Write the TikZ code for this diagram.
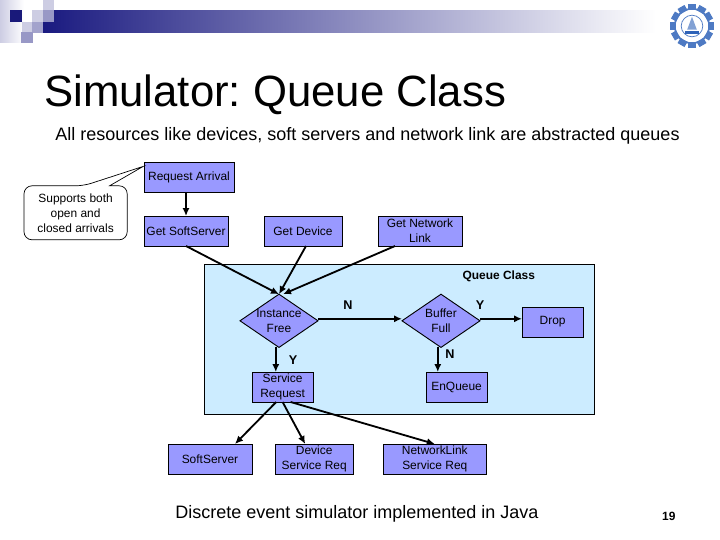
\documentclass[tikz,border=0pt]{standalone}
\usepackage{fontspec}
\setmainfont{Liberation Sans}
\usepackage{xcolor}
\usetikzlibrary{arrows.meta,positioning,shapes.geometric}
\definecolor{boxblue}{HTML}{9999FF}
\definecolor{panelblue}{HTML}{CCECFF}
\definecolor{slidenavy}{HTML}{1A1A80}
\definecolor{logoblue}{HTML}{2F63B8}
\frenchspacing

\begin{document}
\begin{tikzpicture}[
    node distance=0.6cm and 0.9cm,
    proc/.style={
        draw,
        line width=0.65pt,
        fill=boxblue,
        align=center,
        inner sep=0pt,
        outer sep=0pt,
        minimum width=2.1cm,
        minimum height=0.75cm,
        font=\fontsize{8.5}{10.7}\selectfont
    },
    decision/.style={proc, shape=diamond, inner sep=-6pt, minimum width=1.95cm, minimum height=1.33cm},
    panel/.style={draw, line width=0.65pt, fill=panelblue, minimum width=9.75cm, minimum height=3.75cm, inner sep=0pt, outer sep=0pt},
    note/.style={align=center, inner sep=0pt, outer sep=0pt, minimum width=2.58cm, minimum height=1.35cm, font=\fontsize{8.5}{10.7}\selectfont},
    flag/.style={font=\fontsize{9}{11}\selectfont\bfseries, inner sep=0pt},
    heading/.style={font=\fontsize{12.8}{15}\selectfont, inner sep=0pt},
    arrow/.style={-{Latex[length=2mm,width=1.8mm]}, line width=1.3pt}
]
\useasboundingbox (0,0) rectangle (18,-13.5);

% slide banner
\shade[left color=slidenavy, right color=white] (1.08,-0.25) rectangle (16.4,-0.82);
\shade[left color=slidenavy!22, right color=white] (0,0) rectangle (0.6,-1.05);
\fill[slidenavy!95!black] (0.25,-0.25) rectangle (0.55,-0.55);
\fill[slidenavy!22] (0.8,-0.25) rectangle (1.08,-0.55);
\fill[slidenavy!22] (1.08,0) rectangle (1.35,-0.25);
\fill[slidenavy!45] (1.08,-0.25) rectangle (1.35,-0.55);
\fill[slidenavy!22] (0.55,-0.55) rectangle (0.8,-0.8);
\fill[slidenavy!40] (0.8,-0.55) rectangle (1.08,-0.82);
\fill[slidenavy!45] (0.53,-0.8) rectangle (0.82,-1.07);

% logo
\foreach \ang in {0,30,...,330}
    \fill[logoblue!85, rotate around={\ang:(17.3,-0.65)}] (17.2,-0.1) rectangle (17.4,-0.25);
\draw[logoblue!85, line width=1.2pt] (17.3,-0.65) circle (0.43);
\draw[logoblue!85, line width=0.5pt] (17.3,-0.65) circle (0.27);
\fill[logoblue] (17.12,-0.78) rectangle (17.48,-0.86);
\fill[logoblue!60] (17.3,-0.42) -- (17.42,-0.74) -- (17.18,-0.74) -- cycle;

% heading and captions
\node[inner sep=0pt, anchor=base west, font=\fontsize{31.1}{36}\selectfont] (title) at (1.1,-2.67) {Simulator: Queue Class};
\node[heading, anchor=base west] (subtitle) at (1.38,-3.5) {All resources like devices, soft servers and network link are abstracted queues};
\node[heading, anchor=base west] (footer) at (4.38,-12.97) {Discrete event simulator implemented in Java};
\node[inner sep=0pt, font=\fontsize{8.5}{10}\selectfont\bfseries] (pagenum) at (16.72,-12.9) {19};

\node[panel] (queuepanel) at (9.975,-8.475) {};

% top row
\node[proc, minimum width=2.25cm, anchor=north west] (reqarrival) at (3.6,-4.05) {Request Arrival};
\node[proc, below right=0.6cm and 0cm of reqarrival.south west] (getsoft) {Get SoftServer};
\node[proc, minimum width=1.95cm, right=0.9cm of getsoft] (getdevice) {Get Device};
\node[proc, right=0.9cm of getdevice] (getnetwork) {Get Network\\Link};

% callout
\node[note] (supports) at (1.89,-5.32) {Supports both\\open and\\closed arrivals};
\coordinate (notetip) at (3.58,-4.16);
\draw[line width=0.5pt, rounded corners=0.2cm] (supports.west) |- ([xshift=0.2cm]supports.north) [sharp corners] -- (notetip) -- ([xshift=0.85cm]supports.north) [rounded corners=0.2cm] -| (supports.east) |- (supports.south) -| (supports.west);

% inside the queue class
\node[font=\fontsize{8.5}{10}\selectfont\bfseries, inner sep=0pt] (queuelabel) at (12.47,-6.9) {Queue Class};
\node[decision] (instfree) at (6.975,-8.02) {Instance\\Free};
\node[decision] (bufffull) at (11.025,-8.02) {Buffer\\Full};
\node[proc, minimum width=1.53cm, right=1.05cm of bufffull.east, yshift=-0.03cm] (dropbox) {Drop};
\node[proc, minimum width=1.53cm, anchor=north west] (enqueue) at (10.65,-9.3) {EnQueue};
\node[proc, minimum width=1.53cm, anchor=north west] (servreq) at (6.3,-9.3) {Service\\Request};

% bottom row
\node[proc, anchor=north west] (softserver) at (4.2,-11.1) {SoftServer};
\node[proc, minimum width=1.95cm, right=0.58cm of softserver] (deviceserv) {Device\\Service Req};
\node[proc, minimum width=2.58cm, right=0.75cm of deviceserv] (netserv) {NetworkLink\\Service Req};

\node[flag] (instno) at (8.7,-7.63) {N};
\node[flag] (buffyes) at (12,-7.63) {Y};
\node[flag] (instyes) at (7.33,-9) {Y};
\node[flag] (buffno) at (11.25,-8.85) {N};

\draw[arrow] (getsoft.north |- reqarrival.south) -- (getsoft.north);
\draw[arrow] (getsoft.south) -- (instfree.north);
\draw[arrow] ([xshift=0.075cm]getdevice.south) -- (instfree.north);
\draw[arrow] ([xshift=-0.625cm]getnetwork.south) -- ([xshift=0.1cm]instfree.north);
\draw[arrow] ([yshift=0.05cm]instfree.east) -- ([yshift=0.05cm]bufffull.west);
\draw[arrow] ([yshift=0.05cm]bufffull.east) -- ([yshift=0.05cm]bufffull.east -| dropbox.west);
\draw[arrow] ([xshift=-0.08cm]bufffull.south) -- ([xshift=-0.08cm]bufffull.south |- enqueue.north);
\draw[arrow] ([xshift=-0.08cm]instfree.south) -- ([xshift=-0.08cm]instfree.south |- servreq.north);
\draw[arrow] ([xshift=-0.16cm]servreq.south) -- ([xshift=0.625cm]softserver.north);
\draw[arrow] (servreq.south) -- ([xshift=-0.225cm]deviceserv.north);
\draw[arrow] ([xshift=0.2cm]servreq.south) -- (netserv.north);
\end{tikzpicture}
\end{document}
